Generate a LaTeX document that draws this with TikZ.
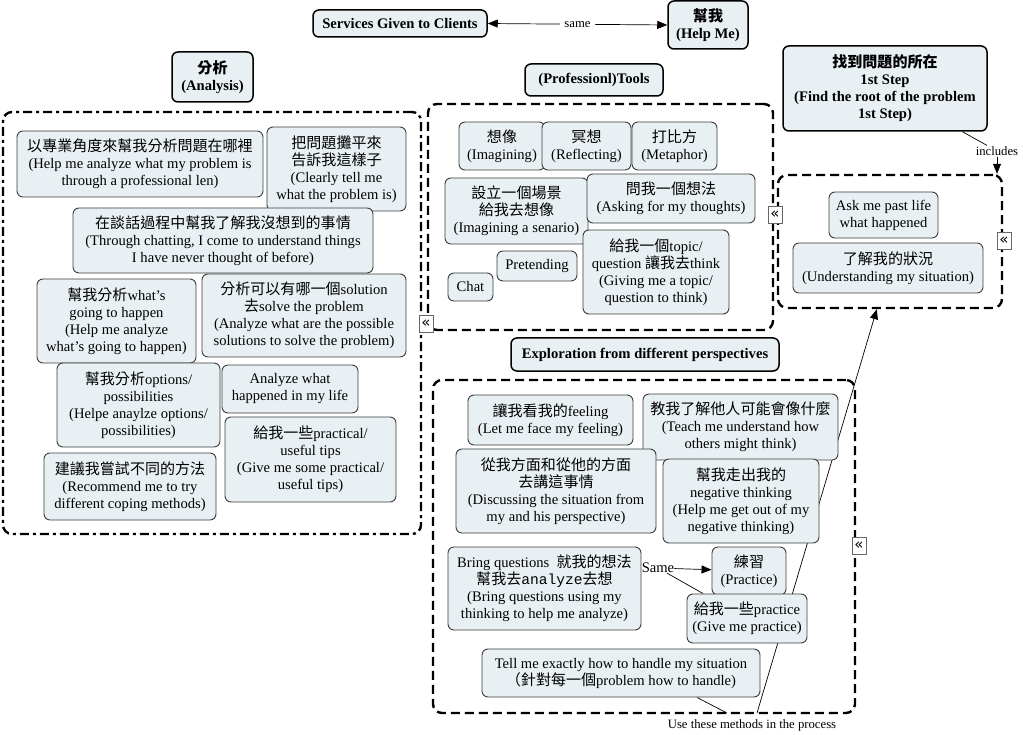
\documentclass[tikz,border=0pt]{standalone}
\usepackage{fontspec}
\setmainfont{Liberation Serif}
\setmonofont{Liberation Mono}
\newfontfamily\cjkf[Scale=1.03]{Noto Sans CJK TC}
\newfontfamily\symf{DejaVu Sans}
\newcommand\zhs[1]{{\cjkf #1}}
\usetikzlibrary{arrows.meta,calc}
\pgfdeclarelayer{bg}
\pgfsetlayers{bg,main}
\definecolor{boxfill}{RGB}{233,240,243}
\definecolor{boxline}{RGB}{60,60,60}
\tikzset{
  base/.style={font=\fontsize{14.6}{17}\selectfont, align=center, inner sep=0pt},
  item/.style={base, draw=boxline, line width=0.9pt, fill=boxfill, rounded corners=6pt},
  head/.style={item, draw=black, line width=1.5pt, font=\fontsize{14.6}{17}\selectfont\bfseries},
  grp/.style={draw=black, line width=2.4pt, dash pattern=on 9pt off 5pt, rounded corners=9pt, inner sep=0pt},
  grpdd/.style={grp, dash pattern=on 9pt off 4pt on 3pt off 4pt},
  link/.style={font=\fontsize{12.7}{14}\selectfont, inner sep=1pt},
  conn/.style={line width=0.7pt, black},
  arr/.style={conn, -{Triangle[length=10pt,width=8pt]}},
  dbl/.style={conn, {Triangle[length=10pt,width=8pt]}-{Triangle[length=10pt,width=8pt]}},
  icon/.style={draw=gray!80!black, fill=white, line width=0.7pt, minimum width=14pt, minimum height=17pt, inner sep=0pt, font=\symf\fontsize{15}{15}\selectfont},
}
\newcommand\mkbox[7][item]{\node[#1, minimum width={(#5-#3)*1pt}, minimum height={(#6-#4)*1pt}] (#2) at ({(#3+#5)/2},{(#4+#6)/2}) {#7};}
\begin{document}
\begin{tikzpicture}[x=1pt,y=-1pt]
\useasboundingbox (0,0) rectangle (1023,735);
% groups
\mkbox[grpdd]{gA}{3}{112}{421}{534}{}
\mkbox[grp]{gT}{428}{104}{773}{330}{}
\mkbox[grp]{gR}{778}{175}{1002}{308}{}
\mkbox[grp]{gE}{433}{380}{855}{713}{}
% headers
\mkbox[head]{svc}{313}{10}{487}{37}{Services Given to Clients}
\mkbox[head]{help}{668}{1}{748}{49}{\zhs{幫我}\\(Help Me)}
\mkbox[head]{anal}{172}{52}{253}{102}{\zhs{分析}\\(Analysis)}
\mkbox[head]{tools}{525}{64}{663}{96}{(Professionl)Tools}
\mkbox[head]{expl}{511}{338}{779}{371}{Exploration from different perspectives}
\mkbox[head]{step}{783}{46}{987}{131}{\zhs{找到問題的所在}\\1st Step\\(Find the root of the problem\\1st Step)}
% analysis items
\mkbox{A1}{17}{131}{263}{197}{\zhs{以專業角度來幫我分析問題在哪裡}\\(Help me analyze what my problem is\\through a professional len)}
\mkbox{A2}{267}{127}{406}{211}{\zhs{把問題攤平來}\\\zhs{告訴我這樣子}\\(Clearly tell me\\what the problem is)}
\mkbox{A3}{73}{208}{373}{273}{\zhs{在談話過程中幫我了解我沒想到的事情}\\(Through chatting, I come to understand things\\I have never thought of before)}
\mkbox{A4}{37}{279}{196}{363}{\zhs{幫我分析}what's\\going to happen\\(Help me analyze\\what's going to happen)}
\mkbox{A5}{202}{274}{406}{357}{\zhs{分析可以有哪一個}solution\\\zhs{去}solve the problem\\(Analyze what are the possible\\solutions to solve the problem)}
\mkbox{A6}{57}{363}{220}{447}{\zhs{幫我分析}options/\\possibilities\\(Helpe anaylze options/\\possibilities)}
\mkbox{A7}{222}{365}{358}{413}{Analyze what\\happened in my life}
\mkbox{A8}{225}{417}{396}{502}{\zhs{給我一些}practical/\\useful tips\\(Give me some practical/\\useful tips)}
\mkbox{A9}{44}{453}{216}{520}{\zhs{建議我嘗試不同的方法}\\(Recommend me to try\\different coping methods)}
% tools items
\mkbox{T1}{459}{122}{545}{170}{\zhs{想像}\\(Imagining)}
\mkbox{T2}{542}{122}{631}{170}{\zhs{冥想}\\(Reflecting)}
\mkbox{T3}{632}{122}{717}{170}{\zhs{打比方}\\(Metaphor)}
\mkbox{T4}{445}{178}{588}{244}{\zhs{設立一個場景}\\\zhs{給我去想像}\\(Imagining a senario)}
\mkbox{T5}{587}{174}{755}{223}{\zhs{問我一個想法}\\(Asking for my thoughts)}
\mkbox{T6}{583}{230}{729}{314}{\zhs{給我一個}topic/\\question \zhs{讓我去}think\\(Giving me a topic/\\question to think)}
\mkbox{T7}{497}{251}{577}{281}{Pretending}
\mkbox{T8}{448}{273}{493}{301}{Chat}
% right items
\mkbox{R1}{829}{192}{938}{238}{Ask me past life\\what happened}
\mkbox{R2}{793}{243}{983}{293}{\zhs{了解我的狀況}\\(Understanding my situation)}
% exploration items
\mkbox{E1}{468}{395}{633}{445}{\zhs{讓我看我的}feeling\\(Let me face my feeling)}
\mkbox{E2}{643}{394}{838}{460}{\zhs{教我了解他人可能會像什麼}\\(Teach me understand how\\others might think)}
\mkbox{E3}{456}{449}{656}{533}{\zhs{從我方面和從他的方面}\\\zhs{去講這事情}\\(Discussing the situation from\\my and his perspective)}
\mkbox{E4}{663}{459}{819}{543}{\zhs{幫我走出我的}\\negative thinking\\(Help me get out of my\\negative thinking)}
\mkbox{E5}{448}{547}{641}{630}{Bring questions\ \ \zhs{就我的想法}\\\zhs{幫我去}\texttt{analyze}\zhs{去想}\\(Bring questions using my\\thinking to help me analyze)}
\mkbox{E6}{712}{547}{786}{595}{\zhs{練習}\\(Practice)}
\mkbox{E7}{687}{594}{807}{643}{\zhs{給我一些}practice\\(Give me practice)}
\mkbox{E8}{482}{649}{760}{697}{Tell me exactly how to handle my situation\\\zhs{（針對每一個}problem how to handle)}
% collapse icons
\node[icon] (i1) at (426,324) {«};
\node[icon] (i2) at (775,215) {«};
\node[icon] (i3) at (1004,241) {«};
\node[icon] (i4) at (859,546) {«};
% linking phrases
\node[link] (inc) at (997,151) {includes};
\node[base] (same) at (658,568) {Same};
\node[link] (use) at (752,725) {Use these methods in the process};
\begin{pgfonlayer}{bg}
\draw[dbl] (svc.east) -- node[link, fill=white, inner xsep=4pt]{same} (help.west);
\draw[conn] (step) -- (inc);
\draw[arr] (inc) -- (inc |- gR.north);
\draw[arr] (same) -- (E6);
\draw[conn] (same) -- (E7);
\draw[conn] ($(use.north)+(-25,-5)$) -- ($(E8.south)+(76,0)$);
\draw[arr] ($(use.north)+(5,-5)$) -- ($(gR.south west)+(100,0)$);
\end{pgfonlayer}
\end{tikzpicture}
\end{document}
